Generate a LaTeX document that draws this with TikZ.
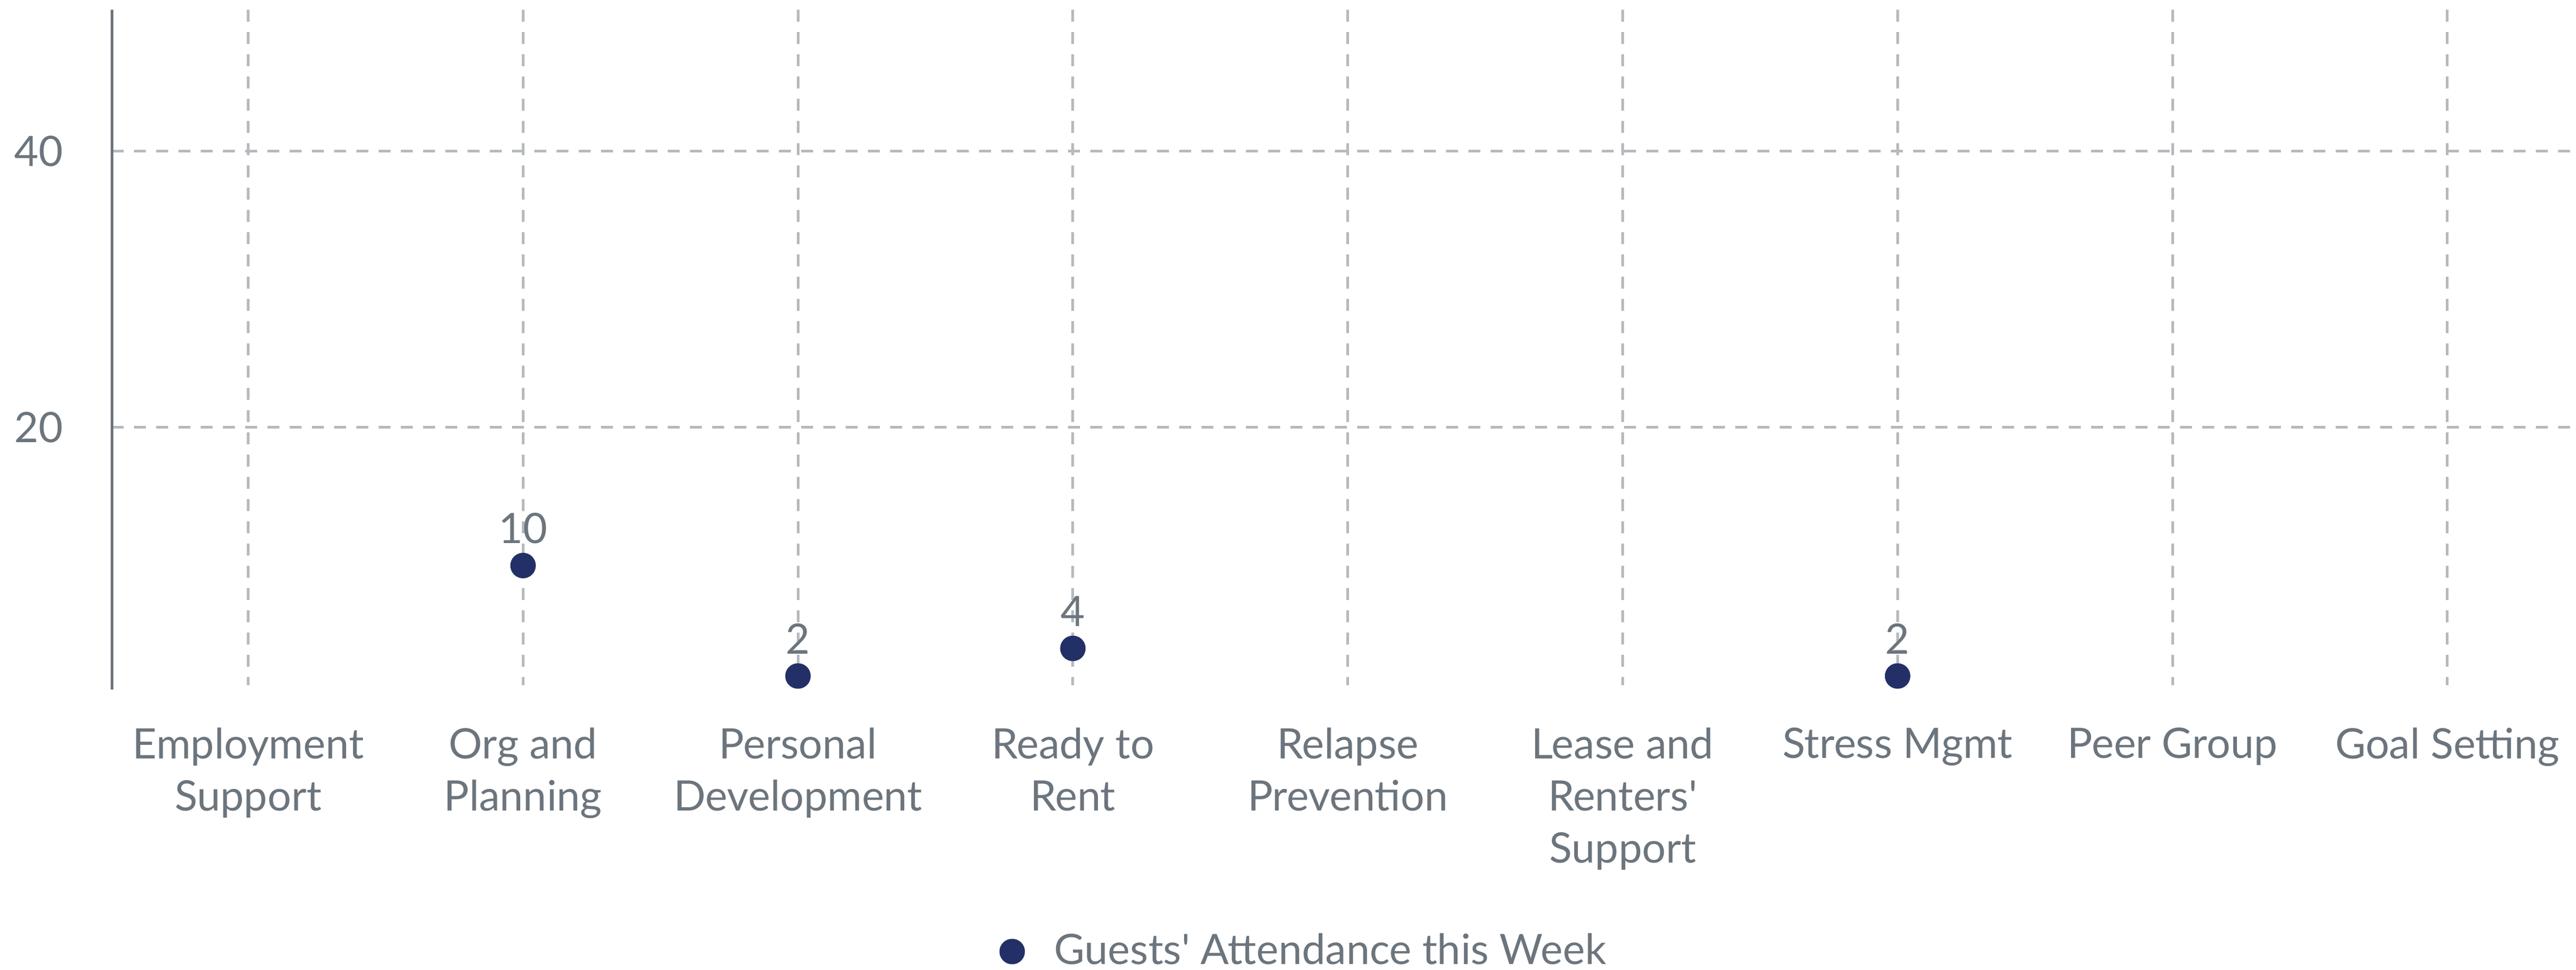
\documentclass[tikz,border=0pt]{standalone}
\usepackage{fontspec}
\setmainfont{Lato}
\usetikzlibrary{positioning, calc}
\definecolor{labelCol}{HTML}{6C757D}
\definecolor{gridCol}{HTML}{B6BABE}
\definecolor{dotCol}{HTML}{233067}

\begin{document}
\begin{tikzpicture}[
    % Node styles
    catlabel/.style={
        font=\fontsize{22}{27.3}\selectfont,
        text=labelCol,
        align=center,
        inner sep=0pt,
        anchor=north
    },
    ticklabel/.style={
        font=\fontsize{22}{27.3}\selectfont,
        text=labelCol,
        inner sep=0pt,
        anchor=base east
    },
    vallabel/.style={
        font=\fontsize{22}{27.3}\selectfont,
        text=labelCol,
        inner sep=0pt,
        anchor=base
    },
    datadot/.style={
        circle,
        fill=dotCol,
        inner sep=0pt,
        minimum size=0.47cm
    },
    gridline/.style={
        draw=gridCol,
        line width=0.05cm,
        dash pattern=on 0.22cm off 0.19cm
    },
    axisline/.style={
        draw=labelCol,
        line width=0.05cm
    }
]
    \useasboundingbox (0,0) rectangle (47.49,17.88);

    % ==== GRID ====
    \coordinate (axTop) at (2.06, 17.70);
    \coordinate (axBot) at (2.06, 5.17);
    \coordinate (g40L) at (2.06, 15.09);
    \coordinate (g40R) at (47.49, 15.09);
    \coordinate (g20L) at (2.06, 10.00);
    \coordinate (g20R) at (47.49, 10.00);
    \draw[gridline] (g40L) -- (g40R);
    \draw[gridline] (g20L) -- (g20R);

    \coordinate (v1t) at (4.575, 17.70);   \coordinate (v1b) at (4.575, 5.25);
    \coordinate (v2t) at (9.643, 17.70);   \coordinate (v2b) at (9.643, 5.25);
    \coordinate (v3t) at (14.711, 17.70);  \coordinate (v3b) at (14.711, 5.25);
    \coordinate (v4t) at (19.779, 17.70);  \coordinate (v4b) at (19.779, 5.25);
    \coordinate (v5t) at (24.847, 17.70);  \coordinate (v5b) at (24.847, 5.25);
    \coordinate (v6t) at (29.915, 17.70);  \coordinate (v6b) at (29.915, 5.25);
    \coordinate (v7t) at (34.983, 17.70);  \coordinate (v7b) at (34.983, 5.25);
    \coordinate (v8t) at (40.051, 17.70);  \coordinate (v8b) at (40.051, 5.25);
    \coordinate (v9t) at (45.119, 17.70);  \coordinate (v9b) at (45.119, 5.25);
    \draw[gridline] (v1t) -- (v1b);
    \draw[gridline] (v2t) -- (v2b);
    \draw[gridline] (v3t) -- (v3b);
    \draw[gridline] (v4t) -- (v4b);
    \draw[gridline] (v5t) -- (v5b);
    \draw[gridline] (v6t) -- (v6b);
    \draw[gridline] (v7t) -- (v7b);
    \draw[gridline] (v8t) -- (v8b);
    \draw[gridline] (v9t) -- (v9b);

    % ==== Y AXIS ====
    \draw[axisline] (axTop) -- (axBot);
    \node[ticklabel] (t40) at (1.17, 14.81) {40};
    \node[ticklabel] (t20) at (1.17, 9.72) {20};

    % ==== CATEGORIES ====
    \node[catlabel] (cEmp) at (4.575, 4.47) {Employment\\Support};
    \node[catlabel] (cOrg) at (9.643, 4.47) {Org and\\Planning};
    \node[catlabel] (cPer) at (14.711, 4.47) {Personal\\Development};
    \node[catlabel] (cRdy) at (19.779, 4.47) {Ready to\\Rent};
    \node[catlabel] (cRel) at (24.847, 4.47) {Relapse\\Prevention};
    \node[catlabel] (cLea) at (29.915, 4.47) {Lease and\\Renters\textquotesingle\\Support};
    \node[catlabel] (cStr) at (34.983, 4.47) {Stress Mgmt};
    \node[catlabel] (cPee) at (40.051, 4.47) {Peer Group};
    \node[catlabel] (cGoa) at (45.119, 4.47) {Goal Setting};

    % ==== DATA ====
    \node[datadot] (dOrg) at (9.643, 7.455) {};
    \node[datadot] (dPer) at (14.711, 5.419) {};
    \node[datadot] (dRdy) at (19.779, 5.928) {};
    \node[datadot] (dStr) at (34.983, 5.419) {};
    \node[vallabel] (vOrg) at ($(dOrg)+(0,0.41)$) {10};
    \node[vallabel] (vPer) at ($(dPer)+(0,0.41)$) {2};
    \node[vallabel] (vRdy) at ($(dRdy)+(0,0.41)$) {4};
    \node[vallabel] (vStr) at ($(dStr)+(0,0.41)$) {2};

    % ==== LEGEND ====
    \node[datadot] (legDot) at (18.66, 0.34) {};
    \node[vallabel, anchor=base west] (legText) at (19.43, 0.10) {Guests\textquotesingle\ Attendance this Week};

\end{tikzpicture}
\end{document}
